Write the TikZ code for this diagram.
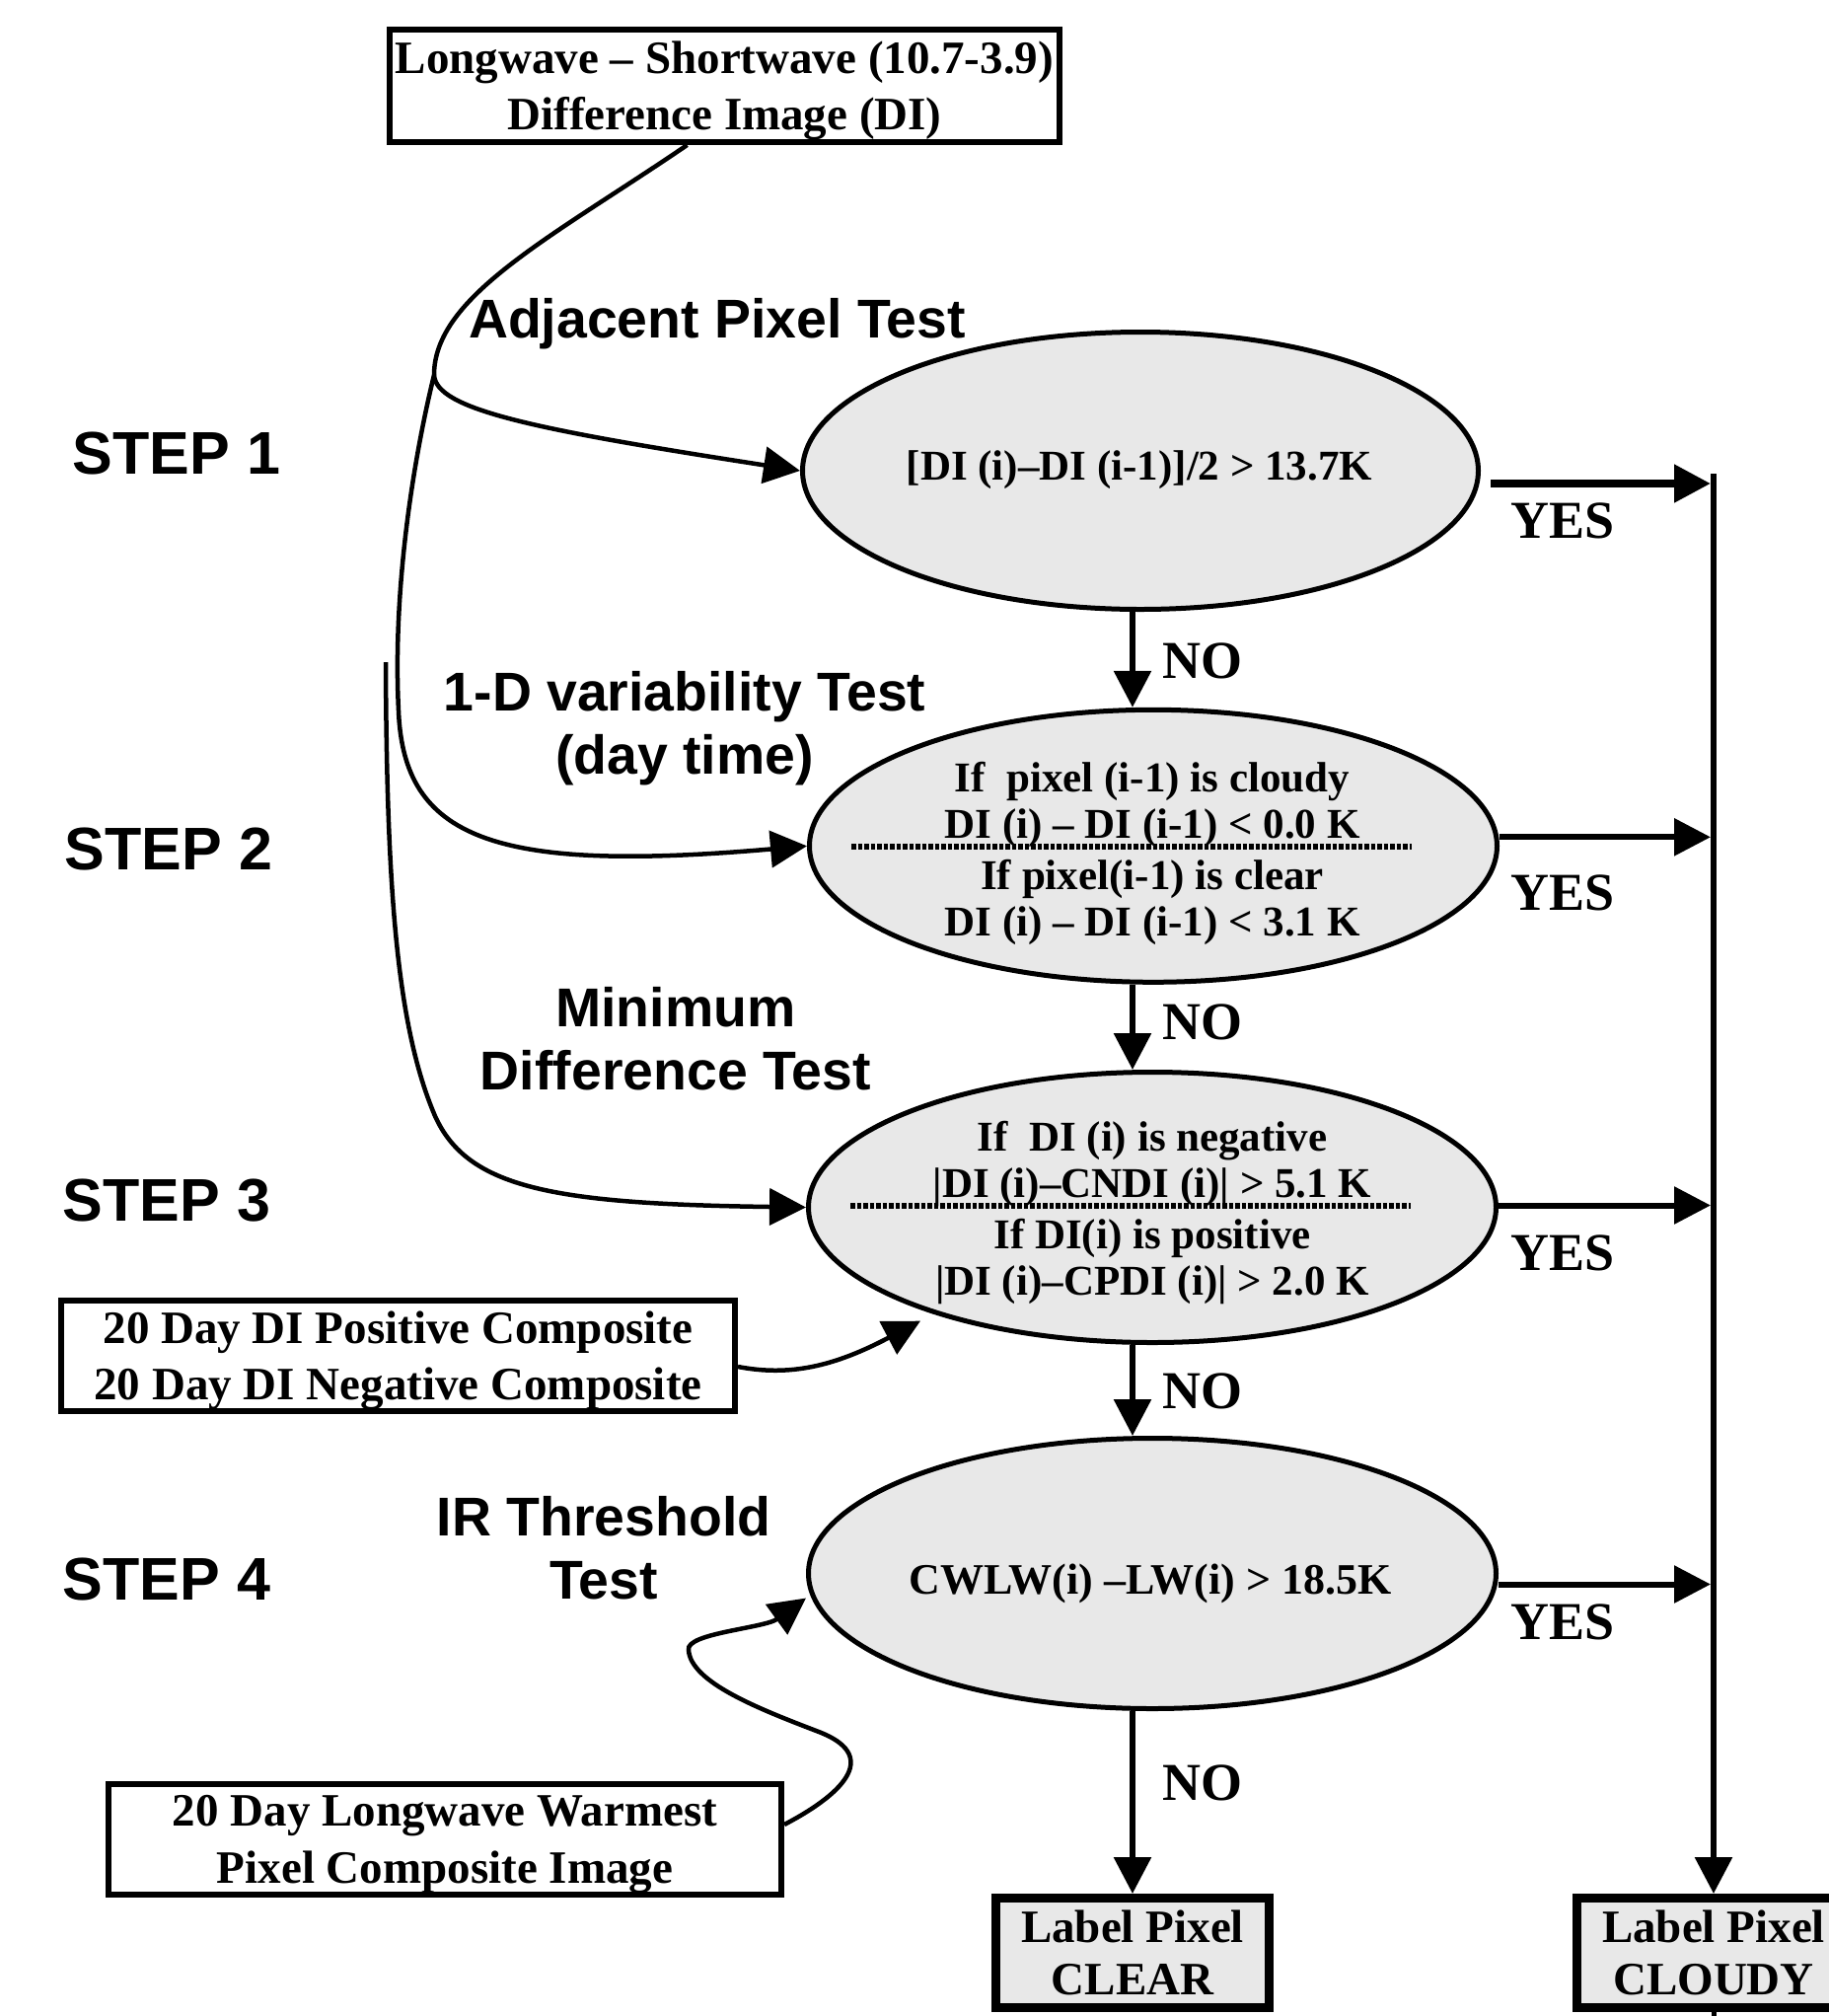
\documentclass[tikz,border=0pt]{standalone}
\usepackage{fontspec}
\setmainfont{Liberation Serif}
\newfontfamily\sansfam{Liberation Sans}
\usetikzlibrary{arrows.meta,shapes.geometric}
\definecolor{cfill}{RGB}{232,232,232}
\begin{document}
\begin{tikzpicture}[x=1pt,y=-1pt,
  box/.style={draw, line width=6pt, inner sep=0pt},
  boxtxt/.style={inner sep=0pt, align=center,
    font=\bfseries\fontsize{47}{57.5}\selectfont},
  endbox/.style={draw, line width=9pt, fill=cfill, inner sep=0pt, align=center,
    minimum width=277pt, minimum height=111pt,
    font=\bfseries\fontsize{47}{53}\selectfont},
  ell/.style={ellipse, draw, line width=5pt, fill=cfill, inner sep=0pt},
  elltxt/.style={inner sep=0pt, align=center,
    font=\bfseries\fontsize{43}{47}\selectfont},
  testlbl/.style={font=\sansfam\bfseries\fontsize{55.4}{64}\selectfont, align=center, inner sep=0pt},
  steplbl/.style={font=\sansfam\bfseries\fontsize{61}{61}\selectfont, inner sep=0pt},
  yn/.style={font=\bfseries\fontsize{54}{54}\selectfont, inner sep=0pt},
  conn/.style={line width=4.5pt, -{Triangle[length=37pt,width=37pt]}},
  flow/.style={line width=6pt, -{Triangle[length=37pt,width=37pt]}},
  dotl/.style={line width=6pt, dash pattern=on 4.5pt off 2pt}
]
\useasboundingbox (0,0) rectangle (1854,2043);

% boxes
\node[box, minimum width=679pt, minimum height=114pt] (TOP) at (734.5,87) {};
\node[boxtxt] (TOPt) at ([yshift=-5pt]TOP.center)
  {Longwave – Shortwave (10.7-3.9)\\Difference Image (DI)};
\node[box, minimum width=683pt, minimum height=112pt] (COMP) at (403.5,1374) {};
\node[boxtxt] (COMPt) at ([yshift=-5pt]COMP.center)
  {20 Day DI Positive Composite\\20 Day DI Negative Composite};
\node[box, minimum width=682pt, minimum height=112pt] (WARM) at (451,1864) {};
\node[boxtxt] (WARMt) at ([yshift=-5pt]WARM.center)
  {20 Day Longwave Warmest\\Pixel Composite Image};
\node[endbox] (CLEAR) at (1148,1979) {Label Pixel\\CLEAR};
\node[endbox] (CLOUDY) at (1737,1979) {Label Pixel\\CLOUDY};

% ellipses
\node[ell, minimum width=685pt, minimum height=281pt] (E1) at (1156,477) {};
\node[ell, minimum width=697pt, minimum height=276pt] (E2) at (1169,857.3) {};
\node[ell, minimum width=697pt, minimum height=274pt] (E3) at (1168,1223.5) {};
\node[ell, minimum width=697pt, minimum height=274pt] (E4) at (1168,1594.5) {};

\node[elltxt] (E1t) at (1155,476) {[DI (i)–DI (i-1)]/2 > 13.7K};
\node[elltxt] (E2t) at (1168,864.5)
  {If\ \ pixel (i-1) is cloudy\\DI (i) – DI (i-1) < 0.0 K\\[5pt]If pixel(i-1) is clear\\DI (i) – DI (i-1) < 3.1 K};
\node[elltxt] (E3t) at (1168,1229)
  {If\ \ DI (i) is negative\\|DI (i)–CNDI (i)| > 5.1 K\\[5pt]If DI(i) is positive\\|DI (i)–CPDI (i)| > 2.0 K};
\node[elltxt, font=\bfseries\fontsize{44}{47}\selectfont] (E4t) at (1166,1604.5)
  {CWLW(i) –LW(i) > 18.5K};

\draw[dotl] ([xshift=-306pt,yshift=-1pt]E2.center) -- ([xshift=262pt,yshift=-1pt]E2.center);
\draw[dotl] ([xshift=-306pt,yshift=2pt]E3.center) -- ([xshift=262pt,yshift=2pt]E3.center);

% labels
\node[steplbl] (S1) at (179,459) {STEP 1};
\node[steplbl] (S2) at (171,860) {STEP 2};
\node[steplbl] (S3) at (169,1217) {STEP 3};
\node[steplbl] (S4) at (169,1600) {STEP 4};
\node[testlbl] (T1) at (727,328) {Adjacent Pixel Test};
\node[testlbl] (T2) at (694,738) {1-D variability Test\\(day time)};
\node[testlbl] (T3) at (685,1053) {Minimum\\Difference Test};
\node[testlbl] (T4) at (612,1569) {IR Threshold\\Test};

\node[yn] (Y1) at (1584,528) {YES};
\node[yn] (Y2) at (1584,905) {YES};
\node[yn] (Y3) at (1584,1270) {YES};
\node[yn] (Y4) at (1584,1644) {YES};
\node[yn] (N1) at (1219,670) {NO};
\node[yn] (N2) at (1219,1036) {NO};
\node[yn] (N3) at (1219,1410) {NO};
\node[yn] (N4) at (1219,1807) {NO};

% right collector line
\coordinate (RT) at (1737,480);
\draw[flow] (RT) -- (CLOUDY.north);
\draw[line width=5pt] (CLOUDY.south) -- ++(0,10);

% YES arrows
\draw[flow, line width=8pt, shorten >=3pt] ([xshift=10pt,yshift=-13pt]E1.east) -- ([yshift=-13pt]E1.east -| RT);
\draw[flow, shorten >=3pt] ([yshift=9pt]E2.east) -- ([yshift=9pt]E2.east -| RT);
\draw[flow, shorten >=3pt] ([yshift=2pt]E3.east) -- ([yshift=2pt]E3.east -| RT);
\draw[flow, shorten >=3pt] ([yshift=-11pt]E4.east) -- ([yshift=-11pt]E4.east -| RT);

% NO arrows
\draw[flow] (E1.south -| CLEAR) -- (E2.north -| CLEAR);
\draw[flow] (E2.south -| CLEAR) -- (E3.north -| CLEAR);
\draw[flow] (E3.south -| CLEAR) -- (E4.north -| CLEAR);
\draw[flow] (E4.south -| CLEAR) -- (CLEAR.north);

% input curves
\coordinate (J) at (440,380);
\coordinate (S3start) at (391,671);
\draw[line width=4.5pt] ([xshift=-38pt]TOP.south) .. controls (560,240) and (440,300) .. (J);
\draw[conn] (J) .. controls (442,415) and (540,435) .. (E1.west);
\draw[conn] (J) .. controls (418,470) and (398,600) .. (404,720)
  .. controls (409,850) and (500,885) .. (E2.west);
\draw[conn] (S3start) .. controls (392,900) and (402,1040) .. (441,1131)
  .. controls (474,1204) and (560,1220) .. (E3.west);
\draw[conn, shorten >=15pt] ([yshift=-11pt]COMP.east) .. controls (800,1395) and (845,1385) .. (E3.206);
\draw[conn] ([yshift=15pt]WARM.east) .. controls (860,1815) and (890,1778) .. (830,1755)
  .. controls (770,1732) and (700,1705) .. (698,1672)
  .. controls (695,1655) and (775,1650) .. ([yshift=-25pt]E4.west);
\end{tikzpicture}
\end{document}
